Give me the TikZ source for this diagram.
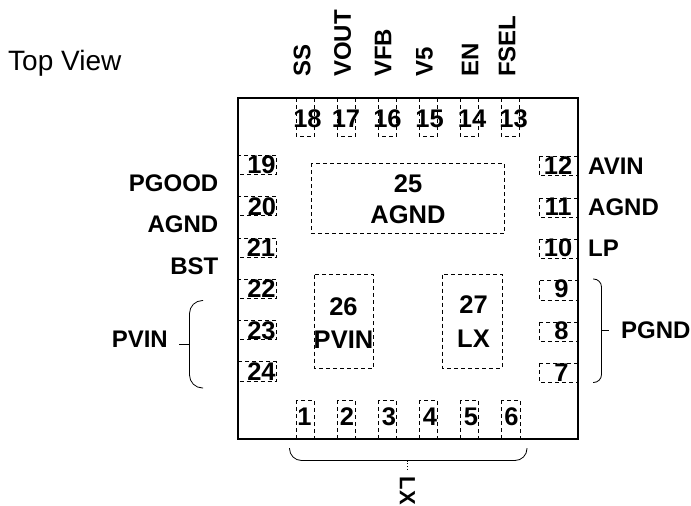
\documentclass[tikz,border=0pt]{standalone}
\usepackage{fontspec}
\setmainfont{Liberation Sans}

\begin{document}
\begin{tikzpicture}[x=1pt,y=-1pt,every node/.style={font=\fontsize{25.5}{26}\selectfont\bfseries,inner sep=0pt},
  sigtext/.style={font=\fontsize{24}{24}\selectfont\bfseries},
  pinbox/.style={draw=black,line width=1pt,dash pattern=on 4pt off 3pt},
  bracket/.style={draw=black,line width=0.8pt}]

  \useasboundingbox (0,0) rectangle (691,506);
  \node[anchor=west,font=\fontsize{28}{28}\selectfont] (topview) at (8,63) {Top View};

  % package outline
  \draw[line width=2pt] (238,98) rectangle (578,438.5);

  % top pins
  \draw[pinbox] (296,98) rectangle (314.5,136);
  \node[] (n18) at (307.5,119) {18};
  \draw[pinbox] (337,98) rectangle (355.5,136);
  \node[] (n17) at (346,119) {17};
  \draw[pinbox] (378,98) rectangle (396.5,136);
  \node[] (n16) at (387.5,119) {16};
  \draw[pinbox] (419,98) rectangle (437.5,136);
  \node[] (n15) at (429.5,119) {15};
  \draw[pinbox] (460,98) rectangle (478.5,136);
  \node[] (n14) at (472,119) {14};
  \draw[pinbox] (501,98) rectangle (519.5,136);
  \node[] (n13) at (513.5,119) {13};

  % top names
  \node[sigtext,rotate=90,anchor=west] (ss) at (302,77) {SS};
  \node[sigtext,rotate=90,anchor=west] (vout) at (342.5,77) {VOUT};
  \node[sigtext,rotate=90,anchor=west] (vfb) at (383,77) {VFB};
  \node[sigtext,rotate=90,anchor=west] (vfive) at (424.5,77) {V5};
  \node[sigtext,rotate=90,anchor=west] (en) at (470,77) {EN};
  \node[sigtext,rotate=90,anchor=west] (fsel) at (507,77) {FSEL};

  % left pins
  \draw[pinbox] (238,155) rectangle (276.5,174);
  \node[] (n19) at (261.5,165) {19};
  \draw[pinbox] (238,196.5) rectangle (276.5,215.5);
  \node[] (n20) at (262,207) {20};
  \draw[pinbox] (238,238) rectangle (276.5,257);
  \node[] (n21) at (261,248) {21};
  \draw[pinbox] (238,279) rectangle (276.5,298);
  \node[] (n22) at (261.5,289) {22};
  \draw[pinbox] (238,320.5) rectangle (276.5,339.5);
  \node[] (n23) at (261.5,330.5) {23};
  \draw[pinbox] (238,361.5) rectangle (276.5,381);
  \node[] (n24) at (261.5,371.5) {24};

  % left names
  \node[sigtext,anchor=east] (pgood) at (218.5,183) {PGOOD};
  \node[sigtext,anchor=east] (agndl) at (218.5,224) {AGND};
  \node[sigtext,anchor=east] (bst) at (218.5,266) {BST};
  \node[sigtext,anchor=east] (pvin) at (168,339) {PVIN};

  % right pins
  \draw[pinbox] (539,156.5) rectangle (578,175.5);
  \node[] (n12) at (558,166) {12};
  \draw[pinbox] (539,198) rectangle (578,217);
  \node[] (n11) at (558,207) {11};
  \draw[pinbox] (539,239) rectangle (578,258);
  \node[] (n10) at (558,248) {10};
  \draw[pinbox] (539,280.5) rectangle (578,300);
  \node[] (n9) at (561.5,289) {9};
  \draw[pinbox] (539,322) rectangle (578,341);
  \node[] (n8) at (561.5,331) {8};
  \draw[pinbox] (539,363) rectangle (578,382);
  \node[] (n7) at (561.5,372.5) {7};

  % right names
  \node[sigtext,anchor=west] (avin) at (588,166.5) {AVIN};
  \node[sigtext,anchor=west] (agndr) at (588,207) {AGND};
  \node[sigtext,anchor=west] (lp) at (588,248) {LP};
  \node[sigtext,anchor=west] (pgnd) at (621,330.5) {PGND};

  % bottom pins
  \draw[pinbox] (296,400) rectangle (314.5,438.5);
  \node[] (n1) at (304.5,417) {1};
  \draw[pinbox] (337,400) rectangle (355.5,438.5);
  \node[] (n2) at (347,417) {2};
  \draw[pinbox] (378,400) rectangle (396.5,438.5);
  \node[] (n3) at (389,417) {3};
  \draw[pinbox] (419,400) rectangle (437.5,438.5);
  \node[] (n4) at (430,417) {4};
  \draw[pinbox] (460,400) rectangle (478.5,438.5);
  \node[] (n5) at (471,417) {5};
  \draw[pinbox] (501,400) rectangle (520,438.5);
  \node[] (n6) at (511.5,417) {6};

  % center pads
  \draw[pinbox] (311.5,163) rectangle (504,233.5);
  \node[] (n25) at (408,184) {25};
  \node[] (agndc) at (408,215) {AGND};
  \draw[pinbox] (314.5,274.5) rectangle (373.5,368);
  \node[] (n26) at (343.5,307) {26};
  \node[] (pvinc) at (343.5,340) {PVIN};
  \draw[pinbox] (442.5,274.5) rectangle (502,368);
  \node[] (n27) at (473.5,305) {27};
  \node[] (lxc) at (473.5,339) {LX};

  % braces
  \coordinate (pvinfoot) at (189.5,344.5);
  \coordinate (pvintick) at (179,344.5);
  \draw[bracket,rounded corners=13pt] (203,300.5) -- (189.5,300.5) -- (189.5,388) -- (203,388);
  \draw[bracket] (pvinfoot) -- (pvintick);

  \coordinate (pgndfoot) at (601.5,330.5);
  \coordinate (pgndtick) at (609,330.5);
  \draw[bracket,rounded corners=8pt] (593,279) -- (601.5,279) -- (601.5,382.5) -- (593,382.5);
  \draw[bracket] (pgndfoot) -- (pgndtick);

  \coordinate (lxfoot) at (407.5,460.5);
  \coordinate (lxtick) at (407.5,471);
  \draw[bracket,rounded corners=12pt] (289.5,448) -- (289.5,460.5) -- (527,460.5) -- (527,448);
  \draw[bracket,dotted] (lxfoot) -- (lxtick);
  \node[rotate=-90,anchor=west,font=\fontsize{22}{22}\selectfont\bfseries] (lx) at (407.5,476.5) {LX};

\end{tikzpicture}
\end{document}
